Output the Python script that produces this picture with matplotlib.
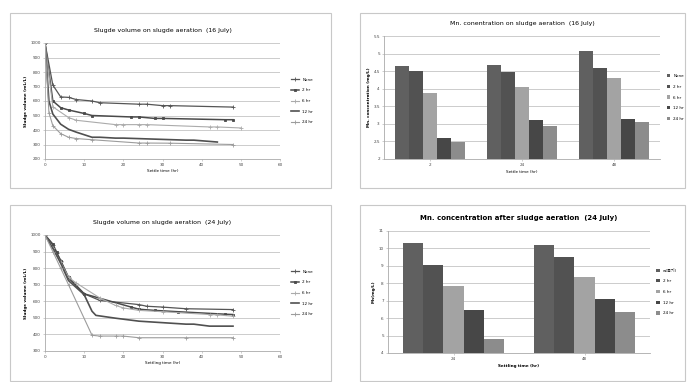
import numpy as np
import matplotlib
matplotlib.use('Agg')
import matplotlib.pyplot as plt
from matplotlib.patches import Rectangle

plt.rcParams['font.family'] = ['DejaVu Sans', 'Noto Sans CJK KR']

W, H = 691, 382

# --- data: sludge volume 16 July ---
series = ['None', '2 hr', '6 hr', '12 hr', '24 hr']
t16_none = [0, 2, 4, 6, 8, 12, 14, 24, 26, 30, 32, 48]
v16_none = [1000, 710, 628, 625, 610, 600, 588, 578, 578, 568, 568, 558]
t16_2 = [0, 2, 4, 6, 10, 12, 22, 24, 28, 30, 46, 48]
v16_2 = [1000, 600, 554, 538, 514, 500, 490, 490, 480, 480, 471, 471]
t16_6 = [0, 2, 6, 8, 18, 20, 24, 26, 42, 44, 50]
v16_6 = [1000, 560, 486, 467, 437, 437, 437, 437, 421, 421, 414]
t16_12 = [0, 1, 2, 4, 6, 8, 12, 14, 18, 20, 36, 38, 44]
v16_12 = [1000, 600, 510, 440, 405, 385, 350, 350, 344, 344, 330, 330, 317]
t16_24 = [0, 1, 2, 4, 6, 8, 12, 24, 26, 32, 48]
v16_24 = [1000, 520, 430, 375, 350, 341, 333, 310, 310, 309, 300]

# --- data: sludge volume 24 July ---
t24_none = [0, 2, 3, 4, 6, 10, 14, 24, 26, 30, 36, 48]
v24_none = [1000, 940, 890, 845, 740, 645, 605, 580, 570, 565, 555, 550]
t24_2 = [0, 2, 3, 4, 6, 10, 22, 24, 28, 34, 46, 48]
v24_2 = [1000, 945, 895, 845, 745, 645, 565, 552, 545, 537, 522, 520]
t24_6 = [0, 2, 4, 6, 8, 14, 18, 20, 24, 30, 42, 44, 48]
v24_6 = [1000, 920, 835, 745, 710, 620, 575, 560, 545, 537, 520, 518, 510]
t24_12 = [0, 2, 4, 6, 10, 12, 13, 18, 24, 36, 38, 42, 44, 48]
v24_12 = [1000, 920, 830, 725, 640, 540, 515, 498, 480, 462, 462, 450, 450, 450]
t24_24 = [0, 2, 4, 6, 12, 14, 18, 20, 24, 36, 48]
v24_24 = [1000, 900, 800, 700, 395, 390, 390, 390, 380, 380, 380]

# --- data: Mn concentration ---
mn16_cats = ['2', '24', '48']
mn16_none = [4.66, 4.68, 5.06]
mn16_2 = [4.50, 4.47, 4.58]
mn16_6 = [3.87, 4.05, 4.31]
mn16_12 = [2.61, 3.10, 3.14]
mn16_24 = [2.49, 2.93, 3.05]

mn24_cats = ['24', '48']
mn24_labels = ['w(폭기)', '2 hr', '6 hr', '12 hr', '24 hr']
mn24_none = [10.32, 10.19]
mn24_2 = [9.04, 9.48]
mn24_6 = [7.85, 8.34]
mn24_12 = [6.44, 7.10]
mn24_24 = [4.80, 6.34]

line_colors = ['#555555', '#4a4a4a', '#ababab', '#505050', '#9c9c9c']
line_markers = ['+', 's', '+', '', '+']
line_widths = [0.9, 1.1, 0.8, 1.2, 0.8]
bar_colors = ['#606060', '#525252', '#a3a3a3', '#474747', '#8c8c8c']

fig = plt.figure(figsize=(W / 100, H / 100), dpi=100)


def px_axes(x0, y0, x1, y1):
    return fig.add_axes([x0 / W, 1 - y1 / H, (x1 - x0) / W, (y1 - y0) / H])


def frame(x0, y0, x1, y1):
    fig.patches.append(Rectangle((x0 / W, 1 - y1 / H), (x1 - x0) / W, (y1 - y0) / H,
                                 transform=fig.transFigure, fill=False,
                                 edgecolor='#c8c8c8', linewidth=0.8))


def style(ax):
    ax.set_axisbelow(True)
    ax.yaxis.grid(True, color='#c4c4c4', linewidth=0.6)
    for s in ['top', 'right']:
        ax.spines[s].set_visible(False)
    for s in ['left', 'bottom']:
        ax.spines[s].set_color('#aaaaaa')
        ax.spines[s].set_linewidth(0.6)
    ax.tick_params(labelsize=3, length=1.5, width=0.4, color='#aaaaaa', pad=1.5,
                   labelcolor='#444444')


def line_panel(ax, data, title):
    for (t, v), name, c, m, lw in zip(data, series, line_colors, line_markers, line_widths):
        ms = 2.0 if m == 's' else 2.2
        ax.plot(t, v, color=c, marker=m, markersize=ms, linewidth=lw,
                markeredgewidth=0.6, label=name)
    ax.set_xlim(0, 60)
    ax.set_xticks(np.arange(0, 61, 10))
    style(ax)
    ax.set_xlabel('Settle time (hr)', fontsize=3, labelpad=1.5)
    ax.set_ylabel('Sludge volume (mL/L)', fontsize=3, fontweight='bold', labelpad=2)
    ax.set_title(title, fontsize=4.5, pad=8)
    ax.legend(loc='center left', bbox_to_anchor=(1.03, 0.5), fontsize=3, frameon=False,
              handlelength=2.0, labelspacing=1.6)


def bar_panel(ax, cats, vals, labels, title, ylabel, xlabel, bold=False):
    x = np.arange(len(cats))
    w = 0.77 / len(vals)
    for i, (v, name, c) in enumerate(zip(vals, labels, bar_colors)):
        ax.bar(x + (i - 2) * w, v, width=w, color=c, label=name)
    ax.set_xticks(x)
    ax.set_xticklabels(cats)
    ax.set_xlim(-0.5, len(cats) - 0.5)
    style(ax)
    ax.set_xlabel(xlabel, fontsize=3, labelpad=2, fontweight='bold' if bold else 'normal')
    ax.set_ylabel(ylabel, fontsize=3, fontweight='bold', labelpad=2)
    ax.set_title(title, fontsize=5 if bold else 4.5, pad=8,
                 fontweight='bold' if bold else 'normal')
    ax.legend(loc='center left', bbox_to_anchor=(1.01, 0.5), fontsize=3, frameon=False,
              handlelength=0.8, handleheight=0.8, labelspacing=1.6)


# top-left
frame(10, 13, 331, 188)
ax1 = px_axes(45, 43, 280, 159)
line_panel(ax1, [(t16_none, v16_none), (t16_2, v16_2), (t16_6, v16_6),
                 (t16_12, v16_12), (t16_24, v16_24)],
           'Slugde volume on slugde aeration  (16 July)')
ax1.set_ylim(200, 1000)
ax1.set_yticks(np.arange(200, 1001, 100))

# bottom-left
frame(10, 205, 331, 381)
ax3 = px_axes(45, 235, 280, 351)
line_panel(ax3, [(t24_none, v24_none), (t24_2, v24_2), (t24_6, v24_6),
                 (t24_12, v24_12), (t24_24, v24_24)],
           'Slugde volume on slugde aeration  (24 July)')
ax3.set_xlabel('Settling time (hr)', fontsize=3, labelpad=1.5)
ax3.set_ylim(300, 1000)
ax3.set_yticks(np.arange(300, 1001, 100))

# top-right
frame(360, 13, 685, 188)
ax2 = px_axes(384, 36, 660, 159)
bar_panel(ax2, mn16_cats, [mn16_none, mn16_2, mn16_6, mn16_12, mn16_24], series,
          'Mn. conentration on sludge aeration  (16 July)',
          'Mn. concentration (mg/L)', 'Settle time (hr)')
ax2.set_ylim(2, 5.5)
ax2.set_yticks(np.arange(2, 5.51, 0.5))
ax2.set_yticklabels(['2', '2.5', '3', '3.5', '4', '4.5', '5', '5.5'])

# bottom-right
frame(360, 205, 685, 381)
ax4 = px_axes(388, 231, 650, 353)
bar_panel(ax4, mn24_cats, [mn24_none, mn24_2, mn24_6, mn24_12, mn24_24], mn24_labels,
          'Mn. concentration after sludge aeration  (24 July)',
          'Mn(mg/L)', 'Settling time (hr)', bold=True)
ax4.set_ylim(4, 11)
ax4.set_yticks(np.arange(4, 12, 1))

fig.savefig('out.png', dpi=100)
